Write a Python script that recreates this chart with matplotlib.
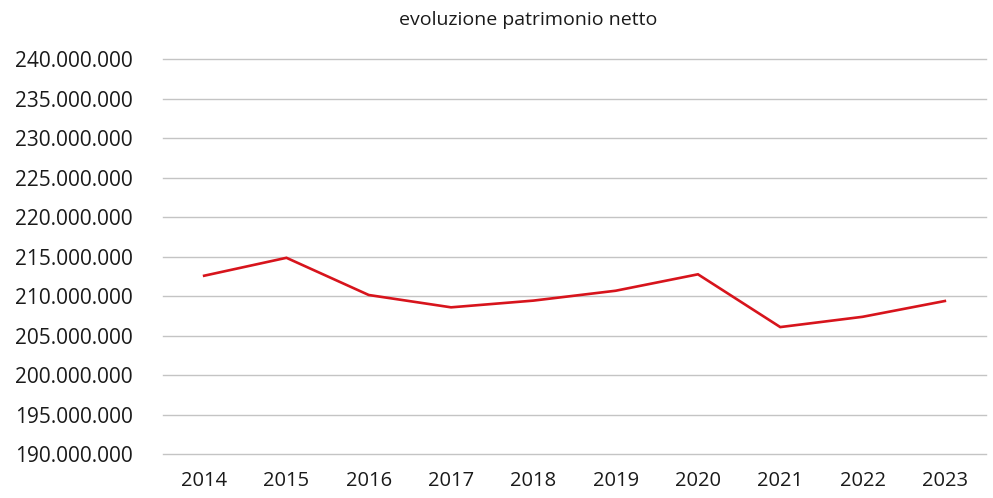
import matplotlib.pyplot as plt
from matplotlib.ticker import FuncFormatter, MultipleLocator

plt.rcParams['font.family'] = ['Open Sans', 'DejaVu Sans']

# anni e patrimonio netto
anni = ['2014', '2015', '2016', '2017', '2018', '2019', '2020', '2021', '2022', '2023']
patrimonio = [212600000, 214870000, 210160000, 208600000, 209450000,
              210700000, 212780000, 206100000, 207400000, 209400000]

fig = plt.figure(figsize=(9.93, 4.98), dpi=100)
ax = fig.add_axes([163 / 993, 0.0878, (986 - 163) / 993, 0.881 - 0.0878])

ax.plot(range(len(anni)), patrimonio, color='#d7141c', linewidth=1.9, solid_joinstyle='miter')

ax.set_xlim(-0.5, len(anni) - 0.5)
ax.set_ylim(190000000, 240000000)
ax.yaxis.set_major_locator(MultipleLocator(5000000))
ax.yaxis.set_major_formatter(FuncFormatter(lambda v, p: f"{int(v):,}".replace(',', '.')))
ax.set_xticks(range(len(anni)))
ax.set_xticklabels(anni)

ax.grid(axis='y', color='#c4c4c4', linewidth=1.0)
for gl in ax.get_ygridlines():
    gl.set_clip_on(False)
ax.set_axisbelow(True)
for s in ax.spines.values():
    s.set_visible(False)
ax.tick_params(axis='both', length=0, labelsize=15, colors='#1a1a1a')
ax.tick_params(axis='y', pad=22)
ax.tick_params(axis='x', pad=12, labelsize=14.5)

fig.text(528 / 993, 1 - 20 / 498, 'evoluzione patrimonio netto', ha='center', va='center',
         fontsize=14, color='#1a1a1a')

fig.savefig('out.png', dpi=100)
